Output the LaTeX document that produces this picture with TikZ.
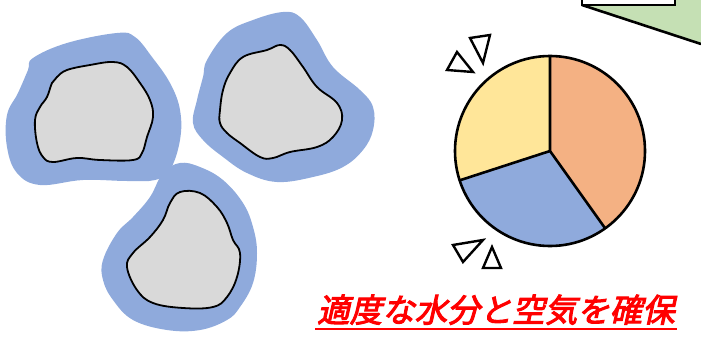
\documentclass[tikz,border=0pt]{standalone}
\usepackage{fontspec}
\newfontfamily\jpfont[FakeSlant=0.22,FakeBold=3]{Noto Sans CJK JP}
\definecolor{soilblue}{HTML}{8FAADC}
\definecolor{soilgray}{HTML}{D9D9D9}
\definecolor{pieorange}{HTML}{F4B183}
\definecolor{pieyellow}{HTML}{FFE699}
\definecolor{calloutgreen}{HTML}{C5E0B4}

\begin{document}
\begin{tikzpicture}[
    x=1pt, y=-1pt,
    water/.style={fill=soilblue},
    grain/.style={fill=soilgray, draw=black, line width=1.8pt},
    slice/.style={draw=black, line width=2.6pt, line join=round},
    spark/.style={draw=black, line width=2.4pt, line join=miter}
]
\useasboundingbox (0,0) rectangle (701,337);

% callout tail from the top right corner
\fill[calloutgreen] (582,5) -- (701,44) -- (701,0) -- (582,0) -- cycle;
\filldraw[fill=white, draw=black, line width=2.4pt] (582,-5) rectangle (675,5);
\draw[black, line width=2.6pt] (582,5) -- (701,44);

% soil grains with water film
\fill[water] plot[smooth cycle, tension=0.65] coordinates {(33,58) (67,43) (117,33) (135,37) (152,57) (170,83) (180,110) (180,140) (170,170) (155,180) (127,181) (83,180) (40,185) (17,173) (7,147) (7,115) (18,93) (28,70)};
\draw[grain] plot[smooth cycle, tension=0.65] coordinates {(57,77) (67,70) (90,65) (113,62) (127,67) (140,83) (150,100) (153,117) (147,137) (142,153) (133,160) (100,160) (77,158) (53,162) (43,157) (37,143) (35,120) (40,107) (47,97) (52,83)};

\fill[water] plot[smooth cycle, tension=0.65] coordinates {(207,60) (227,33) (253,20) (283,12) (300,17) (317,40) (333,67) (360,90) (373,107) (373,130) (363,150) (343,167) (313,177) (277,182) (247,173) (223,157) (203,140) (193,123) (197,100) (203,77)};
\draw[grain] plot[smooth cycle, tension=0.65] coordinates {(230,73) (243,57) (267,50) (280,45) (290,50) (303,67) (317,87) (337,103) (342,120) (333,137) (317,147) (290,152) (273,158) (260,157) (240,143) (227,133) (220,123) (220,110) (223,90)};

\fill[water] plot[smooth cycle, tension=0.65] coordinates {(180,163) (200,167) (223,180) (243,203) (253,227) (257,253) (253,283) (240,307) (227,320) (200,330) (167,330) (133,320) (113,300) (103,280) (103,260) (117,233) (133,217) (150,197) (163,173)};
\draw[grain] plot[smooth cycle, tension=0.65] coordinates {(180,192) (200,193) (217,207) (227,223) (233,240) (240,253) (237,277) (227,297) (213,307) (183,308) (153,303) (137,290) (127,267) (133,253) (150,237) (163,220) (170,203)};

% pie chart
\begin{scope}[shift={(550,151)}, yscale=-1]
\fill[pieorange] (0,0) -- (-54.5:95) arc[start angle=-54.5, end angle=90, radius=95] -- cycle;
\fill[pieyellow] (0,0) -- (90:95) arc[start angle=90, end angle=198, radius=95] -- cycle;
\fill[soilblue] (0,0) -- (198:95) arc[start angle=198, end angle=305.5, radius=95] -- cycle;
\draw[slice] (0,0) circle[radius=95];
\draw[slice] (90:95) -- (0,0) -- (-54.5:95);
\draw[slice] (0,0) -- (198:95);
\end{scope}

% little marks beside the pie
\draw[spark] (447,70) -- (457,52) -- (473,72) -- cycle;
\draw[spark] (470,38) -- (490,35) -- (483,63) -- cycle;
\draw[spark] (453,245) -- (483,240) -- (463,262) -- cycle;
\draw[spark] (483,268) -- (492,247) -- (501,268) -- cycle;

% caption
\node[anchor=base west, text=red, inner sep=0pt, font=\jpfont\fontsize{32.5}{36}\selectfont] (caption) at (317,322) {適度な水分と空気を確保};
\draw[red, line width=2.5pt] ([xshift=-2pt, yshift=-7pt]caption.base west) -- ([xshift=2pt, yshift=-7pt]caption.base east);

\end{tikzpicture}
\end{document}
